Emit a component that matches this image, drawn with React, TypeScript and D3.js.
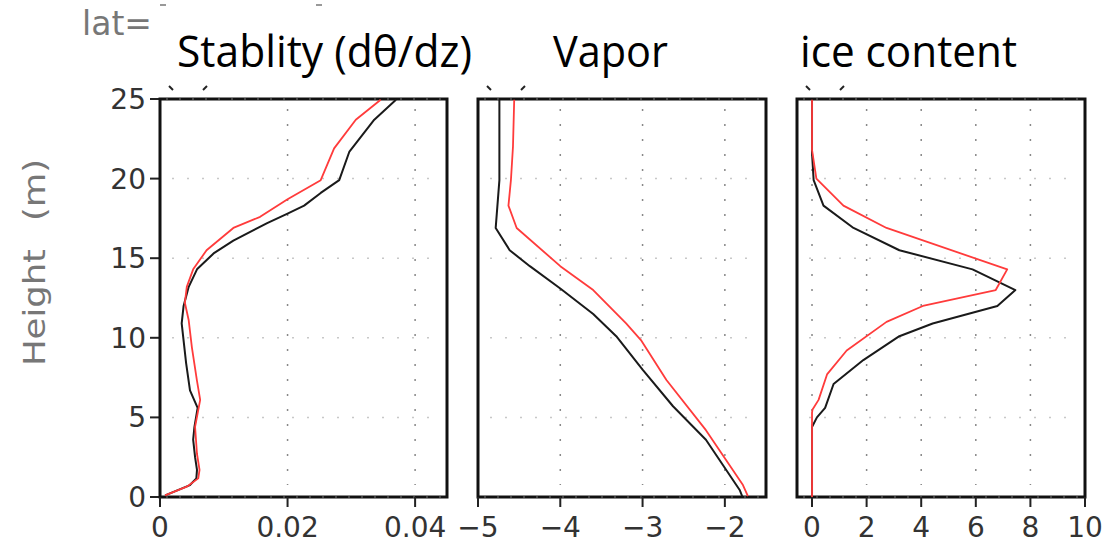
import React from 'react';
import * as d3 from 'd3';

// ---- data: [value, height(m)] ----
const heightTicks = [0, 5, 10, 15, 20, 25];
const stabTicks = [0, 0.02, 0.04];
const stabTickLabels = ['0', '0.02', '0.04'];
const vaporTicks = [-5, -4, -3, -2];
const vaporTickLabels = ['\u22125', '\u22124', '\u22123', '\u22122'];
const iceTicks = [0, 2, 4, 6, 8, 10];
const iceTickLabels = ['0', '2', '4', '6', '8', '10'];

const stabBlack: [number, number][] = [
  [0.0008, 0.1], [0.0047, 0.75], [0.0057, 1.17], [0.0058, 1.7], [0.0055, 2.5], [0.0052, 3.6],
  [0.0054, 4.4], [0.0059, 5.6], [0.0047, 6.7], [0.0041, 8.4], [0.0034, 10.9], [0.0037, 12.0],
  [0.0045, 13.2], [0.0058, 14.3], [0.0084, 15.3], [0.0115, 16.1], [0.0168, 17.2], [0.02, 17.8],
  [0.0226, 18.3], [0.0252, 19.1], [0.0281, 19.9], [0.0297, 21.7], [0.0336, 23.7], [0.037, 24.95],
];
const stabRed: [number, number][] = [
  [0.0008, 0.1], [0.0042, 0.65], [0.006, 1.17], [0.0062, 1.7], [0.0058, 2.7], [0.0055, 4.4],
  [0.0063, 6.1], [0.0058, 7.3], [0.005, 9.4], [0.0045, 11.1], [0.0039, 12.2], [0.0042, 13.2],
  [0.0052, 14.3], [0.0073, 15.5], [0.0115, 16.9], [0.0157, 17.6], [0.02, 18.7], [0.0252, 19.9],
  [0.0273, 21.9], [0.0307, 23.7], [0.0346, 24.95],
];
const vaporBlack: [number, number][] = [
  [-1.79, 0.06], [-1.82, 0.44], [-2.23, 3.6], [-2.63, 5.7], [-3.0, 8.0], [-3.32, 10.1],
  [-3.6, 11.5], [-4.0, 13.1], [-4.37, 14.5], [-4.615, 15.5], [-4.785, 16.9], [-4.74, 19.9],
  [-4.74, 24.95],
];
const vaporRed: [number, number][] = [
  [-1.72, 0.06], [-1.78, 0.75], [-2.23, 4.2], [-2.71, 7.35], [-3.02, 9.86], [-3.2, 10.9],
  [-3.6, 13.0], [-4.0, 14.5], [-4.53, 16.9], [-4.63, 18.3], [-4.6, 19.9], [-4.575, 22.0],
  [-4.56, 24.95],
];
const iceBlack: [number, number][] = [
  [0, 0], [0, 4.4], [0.18, 5.0], [0.48, 5.6], [0.79, 7.1], [1.88, 8.6], [3.2, 10.1],
  [4.42, 10.9], [6.79, 12.0], [7.45, 13.0], [5.88, 14.3], [3.2, 15.5], [1.52, 16.9],
  [0.42, 18.3], [0.06, 19.9], [0, 21.6], [0, 24.95],
];
const iceRed: [number, number][] = [
  [0, 0], [0, 5.3], [0.02, 5.5], [0.24, 6.1], [0.55, 7.7], [1.27, 9.2], [2.73, 11.0],
  [4.06, 12.0], [6.73, 13.0], [7.15, 14.3], [2.73, 16.9], [1.15, 18.3], [0.16, 20.0],
  [0, 21.8], [0, 24.95],
];

const titles = ['Stablity (d\u03B8/dz)', 'Vapor', 'ice content'];

const W = 1114;
const H = 545;
const TOP = 99;
const BOTTOM = 497;
const y = d3.scaleLinear().domain([0, 25]).range([BOTTOM, TOP]);

const panels = [
  { domain: [0, 0.045], range: [160, 447], ticks: stabTicks, labels: stabTickLabels, black: stabBlack, red: stabRed, title: titles[0], tx: 177, tw: 295 },
  { domain: [-5, -1.5], range: [478, 766], ticks: vaporTicks, labels: vaporTickLabels, black: vaporBlack, red: vaporRed, title: titles[1], tx: 553, tw: 115 },
  { domain: [-0.55, 10], range: [797, 1085], ticks: iceTicks, labels: iceTickLabels, black: iceBlack, red: iceRed, title: titles[2], tx: 800, tw: 217 },
];

const tickFont = "'DejaVu Sans', sans-serif";
const titleFont = "'Open Sans', sans-serif";

function Panel({ p, idx }: { p: any; idx: number }) {
  const x = d3.scaleLinear().domain(p.domain).range(p.range);
  const line = d3.line<[number, number]>().x(d => x(d[0])).y(d => y(d[1]));
  const [x0, x1] = p.range;
  const gridX = p.ticks.filter((t: number) => x(t) > x0 + 2 && x(t) < x1 - 2);
  return (
    <g>
      {/* horizontal grid */}
      {heightTicks.map(h => (
        <line key={'h' + h} x1={x0 + 12} x2={x1 - 10} y1={y(h)} y2={y(h)}
          stroke={h === 0 || h === 25 ? '#d8d8d8' : '#c8c8c8'} strokeWidth={1.5} strokeDasharray="2 13" />
      ))}
      {/* vertical grid */}
      {gridX.map((t: number) => (
        <line key={'v' + t} x1={x(t)} x2={x(t)} y1={TOP + 10} y2={BOTTOM - 12}
          stroke="#888" strokeWidth={1.5} strokeDasharray="2 13" />
      ))}
      {/* frame */}
      <rect x={x0} y={TOP} width={x1 - x0} height={BOTTOM - TOP} fill="none" stroke="#111" strokeWidth={3} />
      {[TOP, BOTTOM].map(yy => (
        <line key={'fd' + yy} x1={x0 + 6} x2={x1 - 4} y1={yy} y2={yy} stroke="#777" strokeWidth={1} strokeDasharray="2 11" />
      ))}
      {/* curves */}
      <path d={line(p.black) || ''} fill="none" stroke="#1a1a1a" strokeWidth={2} strokeLinejoin="round" />
      <path d={line(p.red) || ''} fill="none" stroke="#ff3b3b" strokeWidth={1.8} strokeLinejoin="round" />
      {/* bottom ticks */}
      {p.ticks.map((t: number, i: number) => (
        <g key={'t' + t}>
          <line x1={x(t)} x2={x(t)} y1={BOTTOM} y2={BOTTOM + 10} stroke="#222" strokeWidth={2} />
          <text x={x(t)} y={537} textAnchor="middle" fontFamily={tickFont} fontSize={28} fill="#333">{p.labels[i]}</text>
        </g>
      ))}
      {/* little marks above frame */}
      <line x1={x0 + 9} x2={x0 + 13} y1={86} y2={90} stroke="#222" strokeWidth={2} />
      <line x1={x0 + 43} x2={x0 + 47} y1={90} y2={86} stroke="#222" strokeWidth={2} />
      {/* title */}
      <text x={p.tx} y={67} fontFamily={titleFont} fontSize={44} fill="#000"
        textLength={p.tw} lengthAdjust="spacingAndGlyphs">{p.title}</text>
    </g>
  );
}

export default function App() {
  return (
    <div style={{ position: 'absolute', left: 0, top: 0 }}>
      <svg width={W} height={H} style={{ display: 'block', background: '#fff' }}>
        <rect x={0} y={0} width={W} height={H} fill="#fff" />
        {/* lat= label */}
        <text x={82} y={35} fontFamily={tickFont} fontSize={33} fill="#777">lat=</text>
        <line x1={160} x2={166} y1={5} y2={5} stroke="#999" strokeWidth={2} />
        <line x1={316} x2={322} y1={5} y2={5} stroke="#999" strokeWidth={2} />
        {/* y axis */}
        {heightTicks.map(h => (
          <g key={'y' + h}>
            <line x1={150} x2={160} y1={y(h)} y2={y(h)} stroke="#222" strokeWidth={2} />
            <text x={146} y={y(h) + 10} textAnchor="end" fontFamily={tickFont} fontSize={28} fill="#333">{h}</text>
          </g>
        ))}
        <g transform="translate(45,259) rotate(-90)">
          <text x={-107} y={0} fontFamily={tickFont} fontSize={31} fill="#777" textLength={117} lengthAdjust="spacingAndGlyphs">Height</text>
          <text x={38} y={0} fontFamily={tickFont} fontSize={31} fill="#777" textLength={62} lengthAdjust="spacingAndGlyphs">(m)</text>
        </g>
        {panels.map((p, i) => <Panel key={i} p={p} idx={i} />)}
      </svg>
    </div>
  );
}
